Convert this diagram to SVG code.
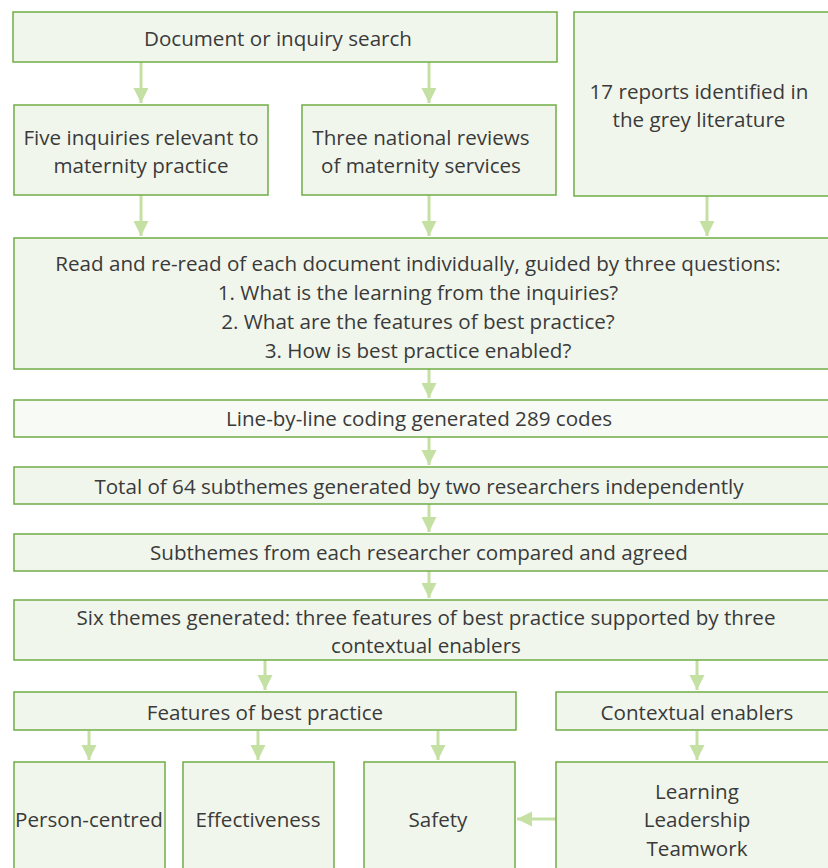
<svg xmlns="http://www.w3.org/2000/svg" width="828" height="868" viewBox="0 0 828 868">
<defs>
<style>
.box{fill:#f1f6ec;stroke:#70ad47;stroke-width:1.5}
.light{fill:#f8faf5}
.t{font-family:"Open Sans","Noto Sans",sans-serif;font-size:20.6px;fill:#3a3a3a;text-anchor:middle}
.c{stroke:#c5e0a3;stroke-width:3;fill:none;marker-end:url(#ah)}
</style>
<marker id="ah" markerUnits="userSpaceOnUse" markerWidth="18" markerHeight="16" refX="15" refY="7.5" orient="auto">
<path d="M0,0 L15,7.5 L0,15 Z" fill="#c5e0a3"/>
</marker>
</defs>
<rect width="828" height="868" fill="#fff"/>
<g id="connectors">
<line class="c" x1="141" y1="62" x2="141" y2="103"/>
<line class="c" x1="429" y1="62" x2="429" y2="103"/>
<line class="c" x1="141" y1="195" x2="141" y2="236"/>
<line class="c" x1="429" y1="195" x2="429" y2="236"/>
<line class="c" x1="707" y1="196" x2="707" y2="236"/>
<line class="c" x1="429" y1="369" x2="429" y2="398"/>
<line class="c" x1="429" y1="437" x2="429" y2="465"/>
<line class="c" x1="429" y1="504" x2="429" y2="532"/>
<line class="c" x1="429" y1="571" x2="429" y2="598"/>
<line class="c" x1="265" y1="660" x2="265" y2="690"/>
<line class="c" x1="697" y1="660" x2="697" y2="690"/>
<line class="c" x1="89" y1="731" x2="89" y2="760"/>
<line class="c" x1="258" y1="731" x2="258" y2="760"/>
<line class="c" x1="438" y1="731" x2="438" y2="760"/>
<line class="c" x1="697" y1="731" x2="697" y2="760"/>
<line class="c" x1="556" y1="819" x2="517" y2="819"/>
</g>
<g id="search"><rect class="box" x="13" y="12" width="544" height="50"/><text class="t" x="278" y="46">Document or inquiry search</text></g>
<g id="inquiries"><rect class="box" x="14" y="105" width="254" height="90"/><text class="t" x="141" y="145">Five inquiries relevant to</text><text class="t" x="141" y="173">maternity practice</text></g>
<g id="reviews"><rect class="box" x="302" y="105" width="254" height="90"/><text class="t" x="421" y="145">Three national reviews</text><text class="t" x="421" y="173">of maternity services</text></g>
<g id="grey"><rect class="box" x="574" y="12" width="270" height="184"/><text class="t" x="699" y="99">17 reports identified in</text><text class="t" x="699" y="127">the grey literature</text></g>
<g id="read"><rect class="box" x="14" y="238" width="830" height="131"/>
<text class="t" x="418" y="271">Read and re-read of each document individually, guided by three questions:</text>
<text class="t" x="418" y="300">1. What is the learning from the inquiries?</text>
<text class="t" x="418" y="329">2. What are the features of best practice?</text>
<text class="t" x="418" y="358">3. How is best practice enabled?</text></g>
<g id="coding"><rect class="box light" x="14" y="400" width="830" height="37"/><text class="t" x="419" y="426">Line-by-line coding generated 289 codes</text></g>
<g id="subthemes"><rect class="box" x="14" y="467" width="830" height="37"/><text class="t" x="419" y="494">Total of 64 subthemes generated by two researchers independently</text></g>
<g id="compared"><rect class="box" x="14" y="534" width="830" height="37"/><text class="t" x="419" y="560">Subthemes from each researcher compared and agreed</text></g>
<g id="themes"><rect class="box" x="14" y="600" width="830" height="60"/><text class="t" x="426" y="625">Six themes generated: three features of best practice supported by three</text><text class="t" x="426" y="653">contextual enablers</text></g>
<g id="features"><rect class="box" x="14" y="692" width="502" height="38"/><text class="t" x="265" y="720">Features of best practice</text></g>
<g id="enablers"><rect class="box" x="556" y="692" width="290" height="38"/><text class="t" x="697" y="720">Contextual enablers</text></g>
<g id="person"><rect class="box" x="14" y="762" width="151" height="120"/><text class="t" x="89" y="827">Person-centred</text></g>
<g id="effect"><rect class="box" x="183" y="762" width="151" height="120"/><text class="t" x="258" y="827">Effectiveness</text></g>
<g id="safety"><rect class="box" x="364" y="762" width="151" height="120"/><text class="t" x="438" y="827">Safety</text></g>
<g id="llt"><rect class="box" x="556" y="762" width="290" height="120"/><text class="t" x="697" y="799">Learning</text><text class="t" x="697" y="827">Leadership</text><text class="t" x="697" y="856">Teamwork</text></g>
</svg>
